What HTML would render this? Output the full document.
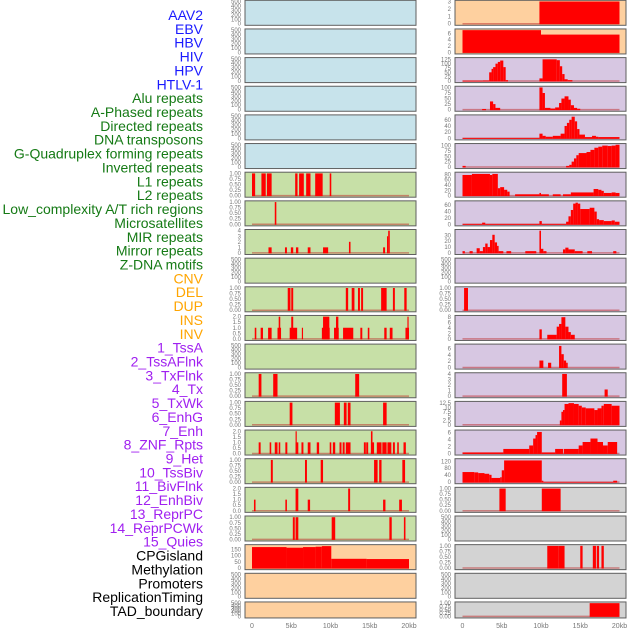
<!DOCTYPE html>
<html><head><meta charset="utf-8"><style>
html,body{margin:0;padding:0;background:#fff;}
svg{display:block;font-family:"Liberation Sans",sans-serif;}
</style></head><body>
<svg id="chart" width="630" height="630" viewBox="0 0 630 630" xmlns="http://www.w3.org/2000/svg"></svg>
<script>
const NS='http://www.w3.org/2000/svg';
const svg=document.getElementById('chart');
const trackLabels=["AAV2","EBV","HBV","HIV","HPV","HTLV-1","Alu repeats","A-Phased repeats","Directed repeats","DNA transposons","G-Quadruplex forming repeats","Inverted repeats","L1 repeats","L2 repeats","Low_complexity A/T rich regions","Microsatellites","MIR repeats","Mirror repeats","Z-DNA motifs","CNV","DEL","DUP","INS","INV","1_TssA","2_TssAFlnk","3_TxFlnk","4_Tx","5_TxWk","6_EnhG","7_Enh","8_ZNF_Rpts","9_Het","10_TssBiv","11_BivFlnk","12_EnhBiv","13_ReprPC","14_ReprPCWk","15_Quies","CPGisland","Methylation","Promoters","ReplicationTiming","TAD_boundary"];
const labelGroups=[0,0,0,0,0,0,1,1,1,1,1,1,1,1,1,1,1,1,1,2,2,2,2,2,3,3,3,3,3,3,3,3,3,3,3,3,3,3,3,4,4,4,4,4];
const groupColors=["#1a1aff","#157a15","#ffa500","#a020f0","#000000"];
const xTickValues=[0,5,10,15,20];
const xTickLabels=["0","5kb","10kb","15kb","20kb"];
const bgColors={blue:"#c7e3eb",orange:"#fed09f",purple:"#d7c7e2",green:"#c7e0a7",gray:"#d3d3d3"};

// ---- data: [startKb, endKb, value]
const aav2Segs=[[9.8,20,3]];
const ebvSegs=[[0,10,7],[10,20,5.6]];
const hivSegs=[[0,2.6,2],[2.6,3.4,3],[3.4,3.7,50],[3.7,3.9,70],[3.9,4.2,80],[4.2,4.5,100],[4.5,4.8,110],[4.8,5.2,118],[5.2,5.5,80],[5.5,5.8,5],[9.8,10.2,15],[10.2,12,125],[12,12.4,120],[12.4,12.7,85],[12.7,13,40],[13,13.4,10],[13.4,14,5]];
const hpvSegs=[[2.5,3,3],[3.5,3.9,37],[3.9,4.2,25],[4.2,4.8,8],[9.8,10.2,100],[10.2,10.5,75],[10.5,11.2,8],[11.2,11.8,5],[11.8,12.3,10],[12.3,12.6,30],[12.6,13,50],[13,13.5,60],[13.5,13.8,45],[13.8,14.2,20],[14.2,14.6,8],[14.6,15,4]];
const directedSegs=[[0,9.8,1],[9.8,10.2,15],[10.2,10.6,8],[10.6,11.5,5],[11.5,12.5,8],[12.5,13,15],[13,13.3,40],[13.3,13.6,50],[13.6,13.9,60],[13.9,14.3,70],[14.3,14.6,55],[14.6,14.9,30],[14.9,15.6,12],[15.6,16.5,4],[16.5,17,8],[17,17.3,5],[17.3,20,4]];
const gquadSegs=[[0,0.4,5],[13.2,13.6,5],[13.6,13.9,10],[13.9,14.2,25],[14.2,14.5,40],[14.5,14.8,55],[14.8,15.8,65],[15.8,16.3,70],[16.3,16.8,80],[16.8,17.3,90],[17.3,17.8,95],[17.8,18.5,100],[18.5,19,98],[19,19.5,100],[19.5,20,104]];
const l1Segs=[[0,1.2,78],[1.2,3.5,82],[3.5,3.8,78],[3.8,4.5,82],[4.5,4.8,28],[4.8,5.3,32],[5.3,5.7,22],[5.7,6,15],[6.7,9.8,5],[9.8,10,10],[10,11,5],[11.5,12.5,5],[12.8,13.8,5],[13.8,16.7,12],[16.7,17.3,25],[17.3,17.7,22],[17.7,18,18],[18,19,10],[19,19.5,12],[19.5,20,10]];
const lowcSegs=[[0,2.5,1],[2.5,2.9,5],[2.9,9.8,1],[9.8,10.1,10],[10.1,13.2,1],[13.2,13.5,8],[13.5,13.8,25],[13.8,14.1,45],[14.1,14.4,65],[14.4,14.7,68],[14.7,15,65],[15,16.2,48],[16.2,16.8,52],[16.8,17.1,40],[17.1,17.4,16],[17.4,18,13],[18,19,10],[19,19.4,12],[19.4,20,8]];
const mirSegs=[[0,0.3,3],[0.9,1.3,3],[1.8,2.2,8],[2.2,2.6,3],[2.6,2.9,10],[2.9,3.2,16],[3.2,3.5,10],[3.5,3.8,22],[3.8,4.1,31],[4.1,4.4,18],[4.4,4.6,12],[4.6,5.2,3],[5.6,6.2,3],[8,9.4,3],[9.8,10,38],[10,10.3,7],[10.3,10.7,3],[12.8,13.1,6],[13.1,13.5,9],[13.5,14.3,6],[14.3,15.3,3],[15.9,16.5,3],[19.2,19.6,3]];
const delRSegs=[[0.2,0.7,1]];
const insRSegs=[[9.8,10.1,3.5],[10.8,12,1.5],[12,12.3,4.5],[12.3,12.6,5.5],[12.6,13.1,8],[13.1,13.5,4.5],[13.5,13.8,2.5],[13.8,14.3,1.5]];
const tssaSegs=[[9.8,10.3,2.2],[10.9,11.3,1.5],[12.3,12.6,6.8],[12.6,12.9,4.2],[12.9,13.2,2.2],[13.2,13.4,1.5]];
const txflnkSegs=[[12.7,13.3,4],[18.1,18.5,1.2]];
const txwkSegs=[[12.4,12.6,2.5],[12.6,12.8,7.5],[12.8,13,8.5],[13,13.5,12],[13.5,14.2,12.5],[14.2,14.8,12],[14.8,15.2,11],[15.2,15.7,10],[15.7,16.8,9.5],[16.8,17.2,8.5],[17.2,17.7,9.5],[17.7,18,11],[18,19,12],[19,20,11]];
const enhSegs=[[0,5.2,0.3],[5.2,8.5,1.3],[8.5,9,2.3],[9,9.3,4.3],[9.3,9.5,5.3],[9.5,10.1,6.2],[10.1,11.8,0.3],[11.8,12.8,1.3],[12.9,14.8,1.3],[14.8,15.3,2.3],[15.3,16.3,3.3],[16.3,17.2,4.3],[17.2,17.9,3.3],[17.9,18.5,2.3],[18.5,19.7,3.3]];
const hetSegs=[[0,1.5,58],[1.5,2,56],[2,2.8,52],[2.8,3.4,48],[3.4,3.7,42],[3.7,4.8,24],[4.8,5,28],[5,5.3,68],[5.3,10.1,125],[10.1,10.3,8],[10.3,19.2,1],[19.2,19.7,8]];
const bivflnkSegs=[[4.7,5.5,1],[10.1,12.5,1]];
const methRSegs=[[10.8,12.2,1],[12.2,13,1],[15,15.3,1],[16.6,17,1],[17.1,17.4,1],[17.7,18,1]];
const tadRSegs=[[16.2,20,1]];
const l1LSegs=[[0,0.4,1],[1.2,1.75,1],[1.9,2.5,1],[5.5,5.8,1],[6,6.6,1],[6.9,7.45,1],[8.05,9,1],[9.9,10.1,1]];
const l2LSegs=[[2.9,3.1,1]];
const microLSegs=[[2.1,2.5,1],[4.2,4.45,1],[4.95,5.25,1],[5.6,5.9,1],[7.1,7.45,1],[9.05,9.7,1],[12.35,12.55,2],[16.7,16.95,1],[17.2,17.35,3],[17.35,17.55,4]];
const delLSegs=[[4.55,4.9,1],[5.0,5.25,1],[11.95,12.25,1],[12.7,13.05,1],[13.5,13.75,1],[13.9,14.15,1],[16.45,17.15,1],[17.95,18.2,1],[19.4,19.7,1]];
const insLSegs=[[0.35,0.55,1],[1.1,1.4,1],[2.05,2.5,1],[3.25,3.7,1],[3.4,3.6,2],[4.8,5.75,1],[5.0,5.25,2],[6.35,6.5,1],[8.9,9.9,1],[9.05,9.85,2],[10.45,11.05,1],[10.7,11,2],[11.6,12.9,1],[13.8,14.05,1],[14.75,14.95,1],[16.85,17.15,1],[17.55,17.9,1],[19.55,20,1],[19.8,19.95,2]];
const tssLSegs=[[0.85,1.2,1],[2.7,3.25,1],[13.15,13.65,1]];
const txLSegs=[[4.8,5.15,1],[10.55,11.2,1],[11.7,12.05,1],[12.2,12.55,1],[16.7,17.15,1]];
const enhgLSegs=[[0.85,1.1,1],[2.25,2.45,1],[2.9,3.25,1],[3.4,3.6,1],[4.25,4.5,1],[5.55,5.7,2],[5.55,5.9,1],[6.3,6.55,1],[7.1,7.45,1],[8.25,8.55,1],[9.9,10.1,1],[10.3,10.6,1],[11.15,11.4,1],[11.55,11.8,1],[11.95,12.55,1],[14.25,14.5,1],[14.55,14.8,1],[15.15,15.35,2],[15.15,15.55,1],[15.9,16.5,1],[16.6,17.15,1],[17.25,17.75,1],[17.95,18.2,1],[18.5,18.7,1],[19.3,19.6,1]];
const tssbivLSegs=[[2.4,2.65,1],[6.75,7,1],[8.75,9.05,1],[15.55,16,1],[16.2,16.5,1],[19.15,19.5,1]];
const enhbivLSegs=[[0.25,0.45,1],[4.25,4.45,1],[5.55,5.9,2],[7.1,7.4,1],[12.25,12.5,2],[16.7,17,1],[18.75,19.1,1]];
const reprLSegs=[[5.2,5.45,1],[5.55,5.9,1],[10.15,10.6,1],[17.5,17.8,1],[19.35,19.55,1]];
const cpgLSegs=[[0,4.4,170],[4.4,6.5,165],[6.5,8.1,170],[8.1,8.9,173],[8.9,10.1,178],[10.1,14.6,75],[14.6,20,73]];

// tick sets
const T500=[0,100,200,300,400,500], T1=[0,0.25,0.5,0.75,1], T2=[0,0.5,1,1.5,2];
function fmt(v,t){ if(t===T1) return v.toFixed(2); if(t===T2) return v.toFixed(1); return String(v);}

// rows: [leftBg,leftSegs,leftMax,leftTicks,rightBg,rightSegs,rightMax,rightTicks]
const rows=[
 ['blue',null,500,T500,'orange',aav2Segs,3,[0,1,2,3]],
 ['blue',null,500,T500,'orange',ebvSegs,7,[0,2,4,6]],
 ['blue',null,500,T500,'purple',hivSegs,128,[0,25,50,75,100,125]],
 ['blue',null,500,T500,'purple',hpvSegs,100,[0,25,50,75,100]],
 ['blue',null,500,T500,'purple',directedSegs,72,[0,20,40,60]],
 ['blue',null,500,T500,'purple',gquadSegs,104,[0,25,50,75,100]],
 ['green',l1LSegs,1,T1,'purple',l1Segs,84,[0,20,40,60,80]],
 ['green',l2LSegs,1,T1,'purple',lowcSegs,70,[0,20,40,60]],
 ['green',microLSegs,4,[0,1,2,3,4],'purple',mirSegs,38,[0,10,20,30]],
 ['green',null,500,T500,'purple',null,500,T500],
 ['green',delLSegs,1,T1,'purple',delRSegs,1,T1],
 ['green',insLSegs,2,T2,'purple',insRSegs,8.2,[0,2,4,6,8]],
 ['green',null,500,T500,'purple',tssaSegs,7,[0,2,4,6]],
 ['green',tssLSegs,1,T1,'purple',txflnkSegs,4,[0,1,2,3,4]],
 ['green',txLSegs,1,T1,'purple',txwkSegs,12.8,[0,2.5,5,7.5,10,12.5]],
 ['green',enhgLSegs,2,T2,'purple',enhSegs,6.4,[0,2,4,6]],
 ['green',tssbivLSegs,1,T1,'purple',hetSegs,128,[0,40,80,120]],
 ['green',enhbivLSegs,2,T2,'gray',bivflnkSegs,1,T1],
 ['green',reprLSegs,1,T1,'gray',null,500,T500],
 ['orange',cpgLSegs,180,[0,50,100,150],'gray',methRSegs,1,T1],
 ['orange',null,500,T500,'gray',null,500,T500],
 ['orange',null,500,T500,'gray',tadRSegs,1,T1]
];

function el(tag,attrs,parent){const e=document.createElementNS(NS,tag);for(const k in attrs)e.setAttribute(k,attrs[k]);(parent||svg).appendChild(e);return e;}

// left labels
trackLabels.forEach((t,i)=>{
  const tx=el('text',{x:203,y:20+i*13.86,'text-anchor':'end','font-size':'14',fill:groupColors[labelGroups[i]]});
  tx.textContent=t;
  
  
});

const cols=[{x:245,w:171,x0:252,x20:409},{x:455,w:171,x0:462.5,x20:619.5}];
function drawPanel(ci,ri,bg,segs,ymax,ticks){
  const c=cols[ci];
  const top=ri*28.65+0.3, h=(ri===21?16:25);
  const g=el('g',{});
  
  
  el('rect',{x:c.x,y:top,width:c.w,height:h,fill:bgColors[bg],stroke:'#5f5f5f','stroke-width':1},g);
  const y0=top+h-1.6, y1=top+1.2;
  const ys=v=>y0-(v/ymax)*(y0-y1);
  const xs=k=>c.x0+(k/20)*(c.x20-c.x0);
  ticks.forEach(t=>{
    const tt=el('text',{x:c.x-4,y:ys(t)+2,'text-anchor':'end','font-size':'6',fill:'#777'},g);
    tt.textContent=fmt(t,ticks);
    
    
  });
  if(segs){
    el('line',{x1:xs(0),x2:xs(20),y1:y0,y2:y0,stroke:'rgba(190,40,40,0.5)','stroke-width':1.5},g);
    segs.forEach(s=>{
      const r=el('rect',{x:xs(s[0]),y:ys(s[2]),width:Math.max(0.8,xs(s[1])-xs(s[0])),height:y0-ys(s[2])+0.5,fill:'#ff0000'},g);
      
      
    });
  }
}
rows.forEach((r,i)=>{drawPanel(0,i,r[0],r[1],r[2],r[3]);drawPanel(1,i,r[4],r[5],r[6],r[7]);});

// x axes
cols.forEach((c,ci)=>{
  xTickValues.forEach((v,i)=>{
    const t=el('text',{x:c.x0+(v/20)*(c.x20-c.x0),y:628,'text-anchor':'middle','font-size':'7',fill:'#777'});
    t.textContent=xTickLabels[i];
    
    
  });
});
</script>
</body></html>
